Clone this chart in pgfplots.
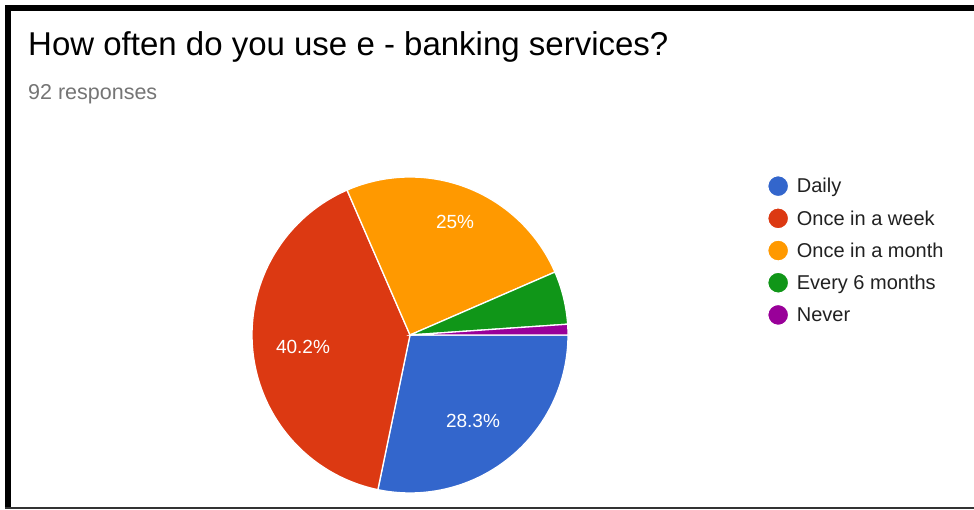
\documentclass[border=0pt]{standalone}
\usepackage{pgfplots}
\pgfplotsset{compat=1.18}
\usepackage{fontspec}
\setmainfont{Liberation Sans}
\definecolor{gblue}{HTML}{3366CC}
\definecolor{gred}{HTML}{DC3912}
\definecolor{gorange}{HTML}{FF9900}
\definecolor{ggreen}{HTML}{109618}
\definecolor{gpurple}{HTML}{990099}
\definecolor{ggray}{HTML}{757575}
\definecolor{gtext}{HTML}{212121}
% responses per answer (92 in total)
\def\nDaily{26}
\def\nWeek{37}
\def\nMonth{23}
\def\nSix{5}
\def\nNever{1}
\def\nTotal{92}
\pgfmathsetmacro\aA{0}
\pgfmathsetmacro\aB{\aA-360*\nDaily/\nTotal}
\pgfmathsetmacro\aC{\aB-360*\nWeek/\nTotal}
\pgfmathsetmacro\aD{\aC-360*\nMonth/\nTotal}
\pgfmathsetmacro\aE{\aD-360*\nSix/\nTotal}
\pgfmathsetmacro\aF{\aE-360*\nNever/\nTotal}
\begin{document}
\begin{tikzpicture}[x=1bp,y=1bp]
\fill[white] (0,0) rectangle (974,510);
\begin{axis}[
  at={(0,0)}, anchor=south west,
  scale only axis, width=974bp, height=510bp,
  xmin=0, xmax=974, ymin=0, ymax=510,
  enlargelimits=false, hide axis, clip=false,
  legend cell align=left,
  legend image code/.code={\fill[#1] (10.5bp,0bp) circle (10.5bp);},
  legend style={at={(axis cs:767,335)}, anchor=north west, draw=none, fill=none,
    inner sep=0pt, outer sep=0pt, row sep=9.9bp, column sep=7.5bp,
    font=\fontsize{20bp}{24bp}\selectfont\color{gtext},
    nodes={inner sep=0pt, outer sep=0pt, text height=17.5bp, text depth=4bp}},
]
\addplot[fill=gblue, draw=white, line width=1.3bp, domain=\aA:\aB, samples=80]
  ({410+158*cos(x)},{175+158*sin(x)}) -- (axis cs:410,175) -- cycle;
\addlegendentry{Daily}
\addplot[fill=gred, draw=white, line width=1.3bp, domain=\aB:\aC, samples=100]
  ({410+158*cos(x)},{175+158*sin(x)}) -- (axis cs:410,175) -- cycle;
\addlegendentry{Once in a week}
\addplot[fill=gorange, draw=white, line width=1.3bp, domain=\aC:\aD, samples=80]
  ({410+158*cos(x)},{175+158*sin(x)}) -- (axis cs:410,175) -- cycle;
\addlegendentry{Once in a month}
\addplot[fill=ggreen, draw=white, line width=1.3bp, domain=\aD:\aE, samples=30]
  ({410+158*cos(x)},{175+158*sin(x)}) -- (axis cs:410,175) -- cycle;
\addlegendentry{Every 6 months}
\addplot[fill=gpurple, draw=white, line width=1.3bp, domain=\aE:\aF, samples=10]
  ({410+158*cos(x)},{175+158*sin(x)}) -- (axis cs:410,175) -- cycle;
\addlegendentry{Never}
\node[white, font=\fontsize{19bp}{23bp}\selectfont] at (axis cs:473,89) {28.3\%};
\node[white, font=\fontsize{19bp}{23bp}\selectfont] at (axis cs:303,163) {40.2\%};
\node[white, font=\fontsize{19bp}{23bp}\selectfont] at (axis cs:455,288) {25\%};
\end{axis}
\fill[black] (5,3) rectangle (11,505);
\fill[black] (5,499) rectangle (974,505);
\fill[black!80] (5,1) rectangle (974,3);
\node[anchor=base west, inner sep=0pt, text=black, font=\fontsize{33bp}{40bp}\selectfont] at (28,454) {How often do you use e - banking services?};
\node[anchor=base west, inner sep=0pt, text=ggray, font=\fontsize{21.5bp}{26bp}\selectfont] at (28,410) {92 responses};
\end{tikzpicture}
\end{document}
